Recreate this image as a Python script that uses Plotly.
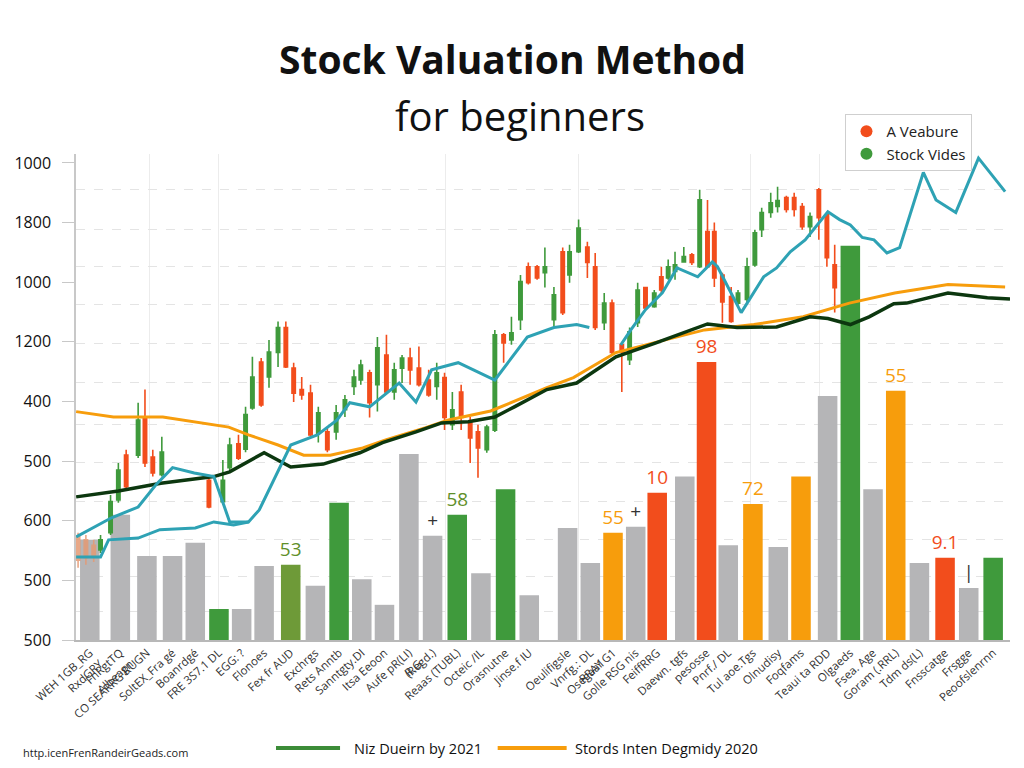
import plotly.graph_objects as go

# ---------------- data ----------------
TITLE_1 = "Stock Valuation Method"
TITLE_2 = "for beginners"

y_tick_vals = [0, 100, 200, 300, 400, 500, 600, 700, 800]
y_tick_text = ["500", "500", "600", "500", "400", "1200", "1000", "1800", "1000"]

bar_x = [0.0, 1.25, 2.34, 3.39, 4.32, 5.29, 6.22, 7.14, 8.23, 9.24,
         10.21, 11.14, 12.07, 13.07, 14.04, 15.05, 16.02, 17.03, 18.0, 19.57,
         20.5, 21.43, 22.36, 23.24, 24.37, 25.26, 26.15, 27.16, 28.2, 29.13,
         30.22, 31.15, 32.08, 33.01, 33.98, 35.03, 36.0, 37.0]
bar_values = [168, 210, 141, 141, 163, 52, 52, 124, 126, 91,
              230, 102, 59, 312, 175, 210, 112, 253, 75, 188,
              129, 180, 190, 247, 274, 466, 159, 228, 156, 274,
              409, 661, 253, 418, 129, 138, 87, 138]
bar_kind = ["gray", "gray", "gray", "gray", "gray", "green", "gray", "gray", "olive", "gray",
            "green", "gray", "gray", "gray", "gray", "green", "gray", "green", "gray", "gray",
            "gray", "orange", "gray", "red", "gray", "red", "gray", "orange", "gray", "orange",
            "gray", "green", "gray", "orange", "gray", "red", "gray", "green"]
bar_labels = ["", "", "", "", "", "", "", "", "53", "",
              "", "", "", "", "+", "58", "", "", "", "",
              "", "55", "+", "10", "", "98", "", "72", "", "",
              "", "", "", "55", "", "9.1", "|", ""]
x_tick_text = ["WEH 1GB_RG<br>RxdGRY", "FnRgtTQ<br>Albeagn", "CO SEARRG RUGN", "SoltEX_Fra gé",
               "Boanrdgé", "FRE 3S7.1 DL", "EGG: ?", "Flonoes", "Fex fr AUD", "Exchrgs",
               "Rets Anntb", "Sanntgty.DI", "Itsa Eeoon", "Aufe pR(LI)<br>R.G", "(Regd.)",
               "Reaas (TUBL)", "Octeic /IL", "Orasnutne", "Jinse.f IU", "Oeulifigsle",
               "Vnrfg.: DL<br>RRAY", "Osegaa1G1", "Golle RSG nis", "FeiffRRG", "Daewn. tgfs",
               "pesosse", "Pnrf./ DL", "Tul aoe.Tgs", "Olnudisy", "Foqfams",
               "Teaui ta RDD", "Olgaeds", "Fsea. Age", "Goram (.RRL)", "Tdm ds(L)",
               "Fnsscatge", "Frsgge", "Peoofslenrnn"]

candle_x = [-0.48, -0.16, 0.16, 0.44, 0.85, 1.17, 1.49, 1.98, 2.26, 2.58,
            2.95, 4.88, 5.45, 5.73, 6.09, 6.38, 6.66, 7.02, 7.34, 7.71,
            8.03, 8.35, 8.68, 9.04, 9.36, 9.73, 10.09, 10.45, 10.82, 11.10,
            11.46, 11.78, 12.15, 12.47, 12.79, 13.12, 13.48, 13.88, 14.21, 14.53,
            14.85, 15.21, 15.58, 15.90, 16.26, 16.59, 16.95, 17.27, 17.64, 17.96,
            18.32, 18.64, 19.01, 19.37, 19.65, 20.02, 20.38, 20.70, 21.07, 21.39,
            21.79, 22.11, 22.44, 22.76, 23.12, 23.41, 23.69, 23.97, 24.33, 24.66,
            24.98, 25.30, 25.58, 25.91, 26.27, 26.55, 26.92, 27.24, 27.52, 27.89,
            28.17, 28.53, 28.85, 29.18, 29.50, 29.86, 30.19, 30.51]
candle_open = [173, 168, 159, 151, 180, 235, 310, 310, 373, 307,
               277, 268, 232, 289, 329, 320, 389, 466, 441, 482,
               524, 456, 420, 414, 347, 349, 349, 386, 425, 436,
               448, 428, 478, 416, 456, 473, 456, 436, 425, 440,
               361, 416, 364, 349, 319, 352, 512, 503, 537, 626,
               626, 616, 537, 651, 612, 651, 659, 626, 532, 565,
               495, 470, 532, 591, 559, 609, 607, 618, 634, 646,
               626, 685, 685, 612, 576, 565, 571, 629, 688, 717,
               727, 742, 742, 727, 693, 755, 713, 629]
candle_high = [180, 176, 168, 176, 243, 297, 319, 398, 420, 319,
               341, 272, 302, 339, 344, 391, 475, 473, 503, 534,
               534, 465, 441, 428, 391, 356, 394, 411, 453, 470,
               453, 508, 512, 465, 478, 490, 492, 453, 465, 448,
               416, 428, 374, 361, 361, 520, 515, 542, 612, 633,
               629, 658, 592, 658, 663, 705, 668, 649, 582, 571,
               498, 524, 599, 592, 587, 626, 638, 651, 659, 649,
               755, 738, 700, 616, 592, 587, 641, 688, 725, 750,
               760, 745, 750, 733, 717, 758, 717, 663]
candle_low = [121, 126, 131, 146, 176, 230, 252, 305, 290, 274,
              274, 221, 227, 285, 302, 315, 386, 391, 423, 458,
              456, 399, 403, 341, 331, 315, 336, 374, 411, 428,
              373, 383, 414, 403, 431, 428, 425, 408, 403, 352,
              352, 352, 297, 272, 314, 349, 465, 495, 520, 596,
              604, 591, 525, 545, 599, 649, 607, 520, 520, 478,
              416, 461, 525, 554, 557, 582, 604, 604, 633, 629,
              624, 624, 592, 532, 532, 562, 567, 626, 676, 708,
              717, 717, 710, 688, 676, 671, 626, 549]
candle_close = [134, 138, 139, 168, 232, 285, 257, 369, 297, 280,
                315, 223, 268, 327, 305, 378, 441, 394, 483, 524,
                458, 414, 411, 344, 381, 319, 381, 403, 441, 461,
                398, 490, 416, 453, 473, 453, 428, 411, 448, 373,
                386, 373, 339, 322, 357, 512, 498, 515, 601, 599,
                607, 626, 579, 549, 651, 691, 633, 524, 565, 482,
                483, 517, 587, 557, 582, 587, 626, 629, 643, 633,
                738, 626, 607, 567, 534, 582, 626, 683, 717, 733,
                737, 722, 722, 693, 710, 708, 641, 591]

teal_x = [-0.56, 0.89, 1.98, 2.70, 3.39, 4.28, 5.08, 5.73, 6.5, 6.94,
          8.23, 9.32, 10.13, 10.65, 11.46, 12.67, 13.36, 14.0, 15.09, 16.59,
          17.92, 19.01, 19.94, 20.46, None,
          21.75, 22.16, 22.76, 23.45, 24.05, 24.9, 25.5, 25.71, 26.68, 27.08,
          27.6, 28.13, 28.69, 29.3, 29.74, 30.23, 30.71, 31.15, 31.64, 32.12,
          32.65, 33.17, 34.14, 34.66, 35.47, 36.4, 37.49]
teal_y = [173, 205, 223, 260, 289, 280, 274, 198, 198, 218,
          327, 344, 369, 398, 391, 431, 399, 453, 465, 436,
          508, 524, 529, 524, None,
          495, 520, 554, 582, 624, 609, 634, 626, 549, 576,
          609, 624, 651, 671, 693, 718, 705, 696, 675, 671,
          649, 658, 784, 738, 717, 808, 752]

teal2_x = [-0.56, 0.44, 0.77, 1.98, 2.87, 4.32, 5.08, 5.89, 6.5]
teal2_y = [139, 139, 168, 171, 185, 188, 198, 193, 198]

trend_x = [-0.56, 1.17, 2.91, 5.08, 5.73, 7.14, 8.23, 9.56, 11.06, 11.99,
           13.36, 14.41, 15.5, 16.59, 17.39, 18.72, 19.94, 21.55, 23.16, 25.3,
           26.51, 28.13, 29.5, 30.23, 31.15, 31.92, 32.93, 33.45, 35.15, 36.76, 37.69]
trend_y = [240, 250, 263, 274, 282, 314, 290, 295, 314, 331,
           349, 364, 366, 374, 391, 420, 431, 475, 498, 530,
           524, 525, 542, 539, 529, 542, 564, 565, 582, 574, 572]

orange_x = [-0.56, 0.97, 2.99, 4.32, 5.69, 6.5, 7.71, 8.76, 9.85, 11.18,
            12.15, 13.76, 14.69, 16.42, 18.72, 19.81, 21.55, 23.45, 25.18, 27.2,
            29.22, 31.11, 32.97, 35.15, 37.49]
orange_y = [383, 374, 374, 366, 357, 344, 327, 310, 310, 322,
            336, 356, 369, 384, 423, 440, 482, 502, 520, 529,
            542, 565, 582, 596, 592]

legend_top = ["A Veabure", "Stock Vides"]
legend_bottom = ["Niz Dueirn by 2021", "Stords Inten Degmidy 2020"]
source_text = "http.icenFrenRandeirGeads.com"

# ---------------- styles ----------------
GREEN = "#3f9a3c"
RED = "#f24d1c"
ORANGE = "#f79d0c"
GRAY = "#b5b5b7"
OLIVE = "#6e9a38"
TEAL = "#2ea2b4"
DARK = "#0c370f"
kind_color = {"gray": GRAY, "green": GREEN, "olive": OLIVE, "orange": ORANGE, "red": RED}
label_color = {"gray": "#333333", "green": "#5f8f2a", "olive": "#5f8f2a", "orange": ORANGE, "red": RED}
FONT = "Open Sans"

fig = go.Figure()

fig.add_trace(go.Bar(
    x=bar_x, y=bar_values, width=0.8,
    marker=dict(color=[kind_color[k] for k in bar_kind], line=dict(width=0)),
    text=bar_labels, textposition="outside", constraintext="none", cliponaxis=False,
    textfont=dict(size=19, family=FONT, color=[label_color[k] for k in bar_kind]),
    showlegend=False, hoverinfo="skip"))

n_faded = 3
fig.add_trace(go.Candlestick(
    x=candle_x[:n_faded], open=candle_open[:n_faded], high=candle_high[:n_faded],
    low=candle_low[:n_faded], close=candle_close[:n_faded],
    increasing=dict(line=dict(color="#e59a73", width=1.6), fillcolor="#e59a73"),
    decreasing=dict(line=dict(color="#e59a73", width=1.6), fillcolor="#e59a73"),
    whiskerwidth=0, showlegend=False, hoverinfo="skip", opacity=0.85))
fig.add_trace(go.Candlestick(
    x=candle_x[n_faded:], open=candle_open[n_faded:], high=candle_high[n_faded:],
    low=candle_low[n_faded:], close=candle_close[n_faded:],
    increasing=dict(line=dict(color=GREEN, width=1.6), fillcolor=GREEN),
    decreasing=dict(line=dict(color=RED, width=1.6), fillcolor=RED),
    whiskerwidth=0, showlegend=False, hoverinfo="skip"))

fig.add_trace(go.Scatter(x=orange_x, y=orange_y, mode="lines",
                         line=dict(color=ORANGE, width=3), showlegend=False, hoverinfo="skip"))
fig.add_trace(go.Scatter(x=trend_x, y=trend_y, mode="lines",
                         line=dict(color=DARK, width=3.5), showlegend=False, hoverinfo="skip"))
fig.add_trace(go.Scatter(x=teal2_x, y=teal2_y, mode="lines",
                         line=dict(color=TEAL, width=3), showlegend=False, hoverinfo="skip"))
fig.add_trace(go.Scatter(x=teal_x, y=teal_y, mode="lines", connectgaps=False,
                         line=dict(color=TEAL, width=3), showlegend=False, hoverinfo="skip"))

# legend entries (top right)
fig.add_trace(go.Scatter(x=[None], y=[None], mode="markers", name=legend_top[0],
                         marker=dict(color=RED, size=13)))
fig.add_trace(go.Scatter(x=[None], y=[None], mode="markers", name=legend_top[1],
                         marker=dict(color=GREEN, size=13)))

# page has an 8px body margin; plot area target on screen: x 62..1010, y 154..640
OFF = 8
W, H = 1024 - 2 * OFF, 768 - 2 * OFF
PX0, PX1, PY0, PY1 = 62, 1010, 154, 640
L, R, T, B = PX0 - OFF, W - (PX1 - OFF), PY0 - OFF, H - (PY1 - OFF)


def px_x(p):
    return (p - PX0) / (PX1 - PX0)


def px_y(p):
    return (PY1 - p) / (PY1 - PY0)


grid_y = [47, 106, 168, 232, 297, 361, 431, 498, 562, 626, 688, 755]
grid_x = [2.46, 5.29, 14.57, 20.02, 27.08, 29.9]

fig.update_layout(
    width=W, height=H,
    margin=dict(l=L, r=R, t=T, b=B),
    paper_bgcolor="white", plot_bgcolor="white",
    font=dict(family=FONT, color="#222"),
    bargap=0.2,
    xaxis=dict(range=[-0.565, 37.69], rangeslider=dict(visible=False),
               tickmode="array", tickvals=bar_x, ticktext=x_tick_text,
               tickangle=-42, tickfont=dict(size=11.5, color="#333"),
               showgrid=False, zeroline=False, showline=True, linecolor="#b8b8b8", linewidth=1.5,
               ticks="",
               minor=dict(tickmode="array", tickvals=grid_x, showgrid=True,
                          gridcolor="#ececec", gridwidth=1, ticks="")),
    yaxis=dict(range=[0, 815], tickmode="array", tickvals=y_tick_vals, ticktext=y_tick_text,
               tickfont=dict(size=16, color="#111"), ticks="outside", ticklen=12,
               tickcolor="#c8c8c8", ticklabelstandoff=8,
               showgrid=False, zeroline=False, showline=True, linecolor="#c8c8c8", linewidth=1.5,
               minor=dict(tickmode="array", tickvals=grid_y, showgrid=True,
                          gridcolor="#e4e4e4", griddash="dash", gridwidth=1, ticks="")),
    legend=dict(x=px_x(843), y=px_y(114), xanchor="left", yanchor="top",
                bgcolor="white", bordercolor="#cfcfcf", borderwidth=1,
                font=dict(size=15, color="#222"), itemwidth=30, tracegroupgap=0,
                itemsizing="constant"),
    showlegend=True,
)

fig.add_annotation(x=px_x(505), y=px_y(58), xref="paper", yref="paper", text="<b>" + TITLE_1 + "</b>",
                   showarrow=False, font=dict(size=39, color="#111"), xanchor="center", yanchor="middle")
fig.add_annotation(x=px_x(513), y=px_y(115), xref="paper", yref="paper", text=TITLE_2,
                   showarrow=False, font=dict(size=40, color="#111"), xanchor="center", yanchor="middle")

# bottom legend
fig.add_shape(type="line", xref="paper", yref="paper", x0=px_x(265), x1=px_x(330),
              y0=px_y(748), y1=px_y(748), line=dict(color="#3c8c38", width=4))
fig.add_annotation(x=px_x(342), y=px_y(748), xref="paper", yref="paper", text=legend_bottom[0],
                   showarrow=False, font=dict(size=14.5, color="#111"), xanchor="left", yanchor="middle")
fig.add_shape(type="line", xref="paper", yref="paper", x0=px_x(490), x1=px_x(560),
              y0=px_y(748), y1=px_y(748), line=dict(color=ORANGE, width=4))
fig.add_annotation(x=px_x(566), y=px_y(748), xref="paper", yref="paper", text=legend_bottom[1],
                   showarrow=False, font=dict(size=14.5, color="#111"), xanchor="left", yanchor="middle")
fig.add_annotation(x=px_x(6), y=px_y(752), xref="paper", yref="paper", text=source_text,
                   showarrow=False, font=dict(size=11, color="#222"), xanchor="left", yanchor="middle")

fig.write_html("out.html")
